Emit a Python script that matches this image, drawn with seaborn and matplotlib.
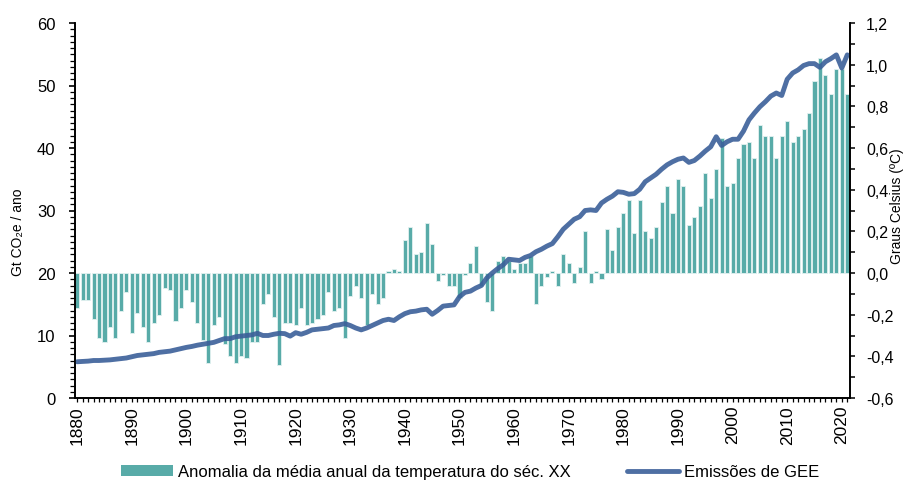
import matplotlib
matplotlib.use("Agg")
import matplotlib.pyplot as plt
import matplotlib.ticker as mticker
from matplotlib.patches import Patch
from matplotlib.lines import Line2D
import seaborn as sns
import pandas as pd

# anos 1880-2021
anos = list(range(1880, 2022))

# anomalia da temperatura face a média do séc. XX (ºC)
anomalia = [
    -0.17, -0.13, -0.13, -0.22, -0.31, -0.33, -0.26, -0.31, -0.18, -0.09,
    -0.29, -0.19, -0.26, -0.33, -0.24, -0.20, -0.07, -0.08, -0.23, -0.17,
    -0.08, -0.14, -0.24, -0.32, -0.43, -0.25, -0.21, -0.34, -0.40, -0.43,
    -0.40, -0.41, -0.33, -0.33, -0.15, -0.10, -0.21, -0.44, -0.24, -0.24,
    -0.25, -0.17, -0.25, -0.24, -0.22, -0.20, -0.09, -0.18, -0.17, -0.31,
    -0.11, -0.06, -0.12, -0.25, -0.10, -0.15, -0.12, 0.01, 0.02, 0.01,
    0.16, 0.22, 0.09, 0.10, 0.24, 0.14, -0.04, -0.01, -0.06, -0.06,
    -0.12, -0.01, 0.05, 0.13, -0.06, -0.14, -0.18, 0.06, 0.08, 0.06,
    0.02, 0.05, 0.05, 0.08, -0.15, -0.06, -0.02, 0.01, -0.06, 0.09,
    0.05, -0.05, 0.03, 0.20, -0.05, 0.01, -0.03, 0.21, 0.11, 0.22,
    0.29, 0.35, 0.19, 0.35, 0.20, 0.17, 0.22, 0.34, 0.42, 0.29,
    0.45, 0.42, 0.23, 0.27, 0.32, 0.48, 0.36, 0.50, 0.65, 0.42,
    0.43, 0.55, 0.62, 0.63, 0.55, 0.71, 0.66, 0.66, 0.55, 0.66,
    0.73, 0.63, 0.66, 0.69, 0.77, 0.92, 1.03, 0.95, 0.86, 0.98,
    0.98, 0.86,
]

# emissões de GEE (Gt CO2e / ano)
emissoes = [
    5.8, 5.85, 5.9, 6.0, 6.0, 6.05, 6.1, 6.2, 6.3, 6.4,
    6.6, 6.8, 6.9, 7.0, 7.1, 7.3, 7.4, 7.5, 7.7, 7.9,
    8.1, 8.25, 8.45, 8.6, 8.75, 8.9, 9.2, 9.5, 9.5, 9.8,
    9.9, 10.0, 10.1, 10.35, 10.0, 10.0, 10.2, 10.35, 10.3, 9.9,
    10.45, 10.2, 10.5, 10.9, 11.0, 11.1, 11.2, 11.6, 11.7, 11.9,
    11.6, 11.2, 10.9, 11.2, 11.6, 12.0, 12.4, 12.6, 12.4, 13.0,
    13.5, 13.8, 13.9, 14.1, 14.2, 13.4, 14.0, 14.7, 14.8, 14.9,
    16.2, 16.9, 17.1, 17.6, 18.0, 19.2, 20.0, 20.7, 21.3, 22.2,
    22.1, 22.0, 22.5, 22.8, 23.4, 23.8, 24.3, 24.7, 25.8, 27.0,
    27.8, 28.6, 29.0, 30.0, 30.1, 30.0, 31.2, 31.8, 32.3, 33.0,
    32.9, 32.6, 32.7, 33.4, 34.6, 35.2, 35.8, 36.6, 37.3, 37.8,
    38.2, 38.4, 37.7, 38.0, 38.7, 39.5, 40.2, 41.8, 40.4, 41.0,
    41.4, 41.4, 42.7, 44.5, 45.6, 46.6, 47.4, 48.3, 48.8, 48.4,
    51.0, 52.0, 52.5, 53.2, 53.5, 53.5, 52.9, 53.8, 54.3, 54.9,
    52.8, 54.9,
]

label_barras = "Anomalia da média anual da temperatura do séc. XX"
label_linha = "Emissões de GEE"

cor_barras = "#58aba8"
cor_linha = "#3b5f99"

sns.set_theme(style="white")
plt.rcParams["font.family"] = ["Liberation Sans", "DejaVu Sans"]
plt.rcParams["text.color"] = "black"

df = pd.DataFrame({"ano": anos, "anomalia": anomalia, "emissoes": emissoes})

fig = plt.figure(figsize=(9.19, 4.81), dpi=100)
ax = fig.add_axes([75 / 919, 1 - 399 / 481, 775 / 919, 375 / 481])
ax2 = ax.twinx()

# barras no eixo secundario (direita)
sns.barplot(data=df, x="ano", y="anomalia", native_scale=True, color=cor_barras,
            saturation=1, width=0.75, edgecolor="#e2f1f0", linewidth=0.6,
            errorbar=None, ax=ax2)
# linha no eixo principal (esquerda)
sns.lineplot(data=df, x="ano", y="emissoes", color=cor_linha, lw=3.5, alpha=0.9, ax=ax)

# linha por cima das barras
ax.set_zorder(ax2.get_zorder() + 1)
ax.patch.set_visible(False)

ax.set_xlim(1879.6, 2021.5)
ax.set_ylim(0, 60)
ax2.set_ylim(-0.6, 1.2)

ax.yaxis.set_major_locator(mticker.MultipleLocator(10))
ax.yaxis.set_minor_locator(mticker.MultipleLocator(1))
ax2.yaxis.set_major_locator(mticker.MultipleLocator(0.2))
ax2.yaxis.set_minor_locator(mticker.MultipleLocator(0.1))
ax2.yaxis.set_major_formatter(mticker.FuncFormatter(lambda v, p: f"{v:.1f}".replace(".", ",")))
ax.xaxis.set_major_locator(mticker.MultipleLocator(10))
ax.xaxis.set_minor_locator(mticker.MultipleLocator(1))

for a in (ax, ax2):
    a.set_xlabel("")
    a.set_ylabel("")
    a.spines["top"].set_visible(False)
    for s in a.spines.values():
        s.set_color("black")
        s.set_linewidth(1.2)

ax.tick_params(axis="y", which="major", left=True, right=False, direction="out",
               length=4, width=1.2, pad=10, labelsize=12, colors="black")
ax.tick_params(axis="y", which="minor", left=True, right=False, direction="out",
               length=3.5, width=0.9, colors="black")
ax2.tick_params(axis="y", which="major", right=True, left=False, direction="out",
                length=3.5, width=1.1, pad=8, labelsize=11.5, colors="black")
ax2.tick_params(axis="y", which="minor", right=True, left=False, direction="out",
                length=3.5, width=1.1, colors="black")
ax.tick_params(axis="x", which="both", bottom=True, direction="out", length=3,
               width=0.9, pad=2, labelsize=12.5, colors="black")
ax2.tick_params(axis="x", which="both", bottom=False, labelbottom=False)

for t in ax.get_xticklabels():
    t.set_rotation(90)

fig.text(18 / 919, 1 - 232 / 481, "Gt CO₂e / ano", rotation=90, ha="center", va="center",
         fontsize=10, color="black")
fig.text(897 / 919, 1 - 206 / 481, "Graus Celsius (ºC)", rotation=90, ha="center",
         va="center", fontsize=10, color="black")

handles = [Patch(facecolor=cor_barras, edgecolor="none"),
           Line2D([], [], color=cor_linha, lw=3.5, alpha=0.9)]
leg = fig.legend(handles, [label_barras, label_linha], loc="center",
                 bbox_to_anchor=(470 / 919, 1 - 473 / 481), ncol=2, frameon=False,
                 fontsize=12, handlelength=3.1, handleheight=0.6, handletextpad=0.3,
                 columnspacing=3.4, borderpad=0.1)
for t in leg.get_texts():
    t.set_color("black")

fig.savefig("out.png", dpi=100)
